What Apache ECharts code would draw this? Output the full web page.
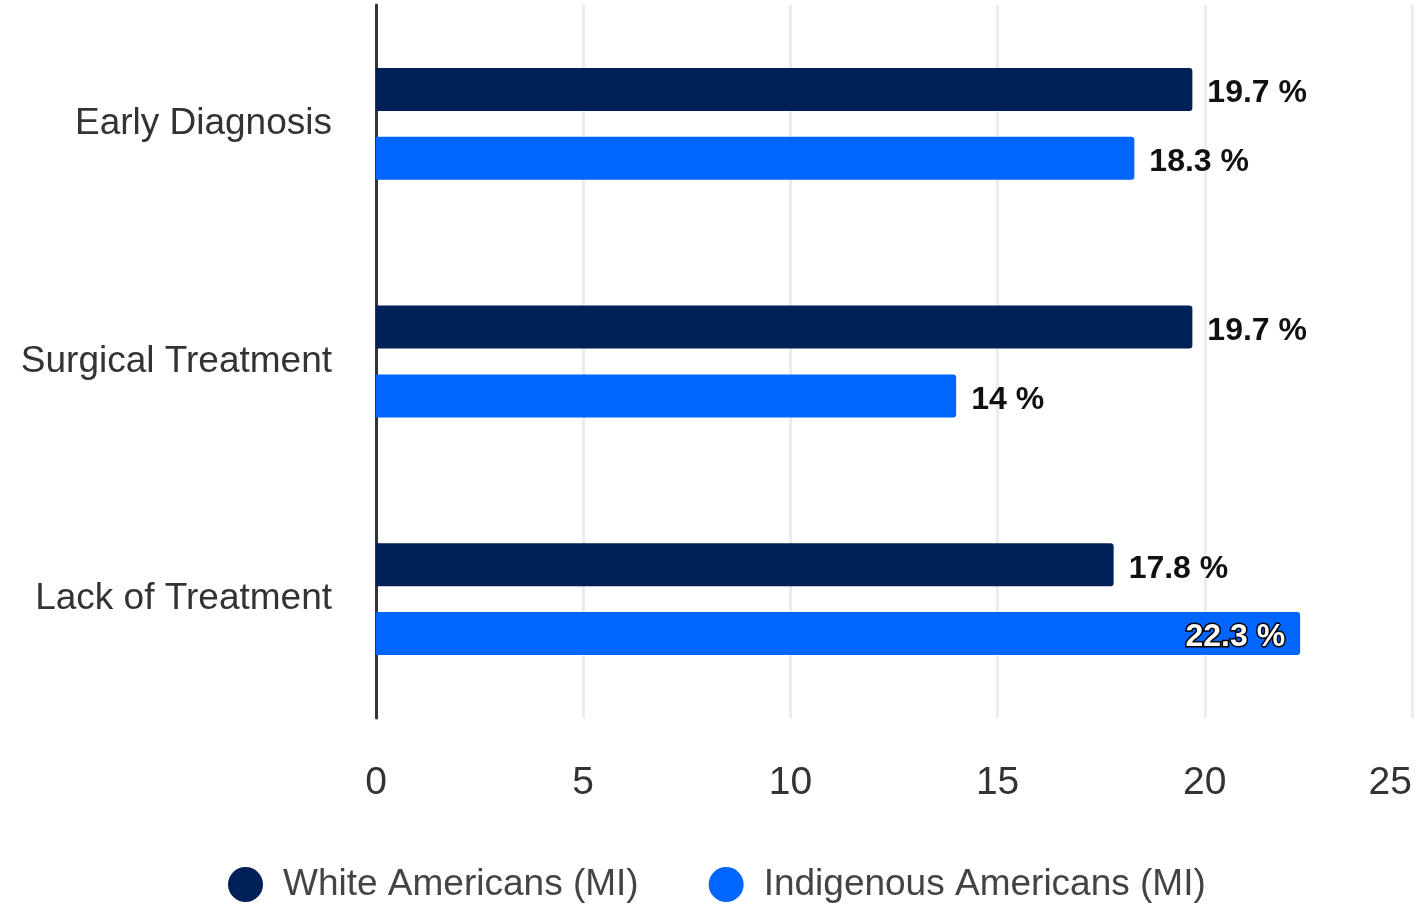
<!DOCTYPE html>
<html>
<head>
<meta charset="utf-8">
<script src="https://cdn.jsdelivr.net/npm/echarts@6/dist/echarts.min.js"></script>
<style>
  html, body { margin: 0; padding: 0; background: #ffffff; }
  #chart { width: 1425px; height: 905px; }
</style>
</head>
<body>
<div id="chart"></div>
<script>
// Categories, top to bottom
const categories = ['Early Diagnosis', 'Surgical Treatment', 'Lack of Treatment'];
// Percentages per group
const whiteAmericans = [19.7, 19.7, 17.8];
const indigenousAmericans = [18.3, 14, 22.3];
const seriesNames = ['White Americans (MI)', 'Indigenous Americans (MI)'];
const xTicks = [0, 5, 10, 15, 20, 25];

const FONT = '"Liberation Sans", Arial, sans-serif';
const AXIS_MAX = xTicks[xTicks.length - 1];

// Values that do not fit outside the bar are written inside it
function makeData(values) {
  return values.map(function (v) {
    const item = { value: v };
    if (v > 21) {
      item.label = {
        position: 'insideRight',
        distance: 15,
        color: '#ffffff',
        textBorderColor: '#000000',
        textBorderWidth: 3
      };
    }
    return item;
  });
}

const barLabel = {
  show: true,
  position: 'right',
  distance: 15,
  offset: [0, 4],
  fontFamily: FONT,
  fontSize: 32,
  fontWeight: 'bold',
  color: '#111111',
  textBorderColor: '#ffffff',
  textBorderWidth: 2,
  formatter: function (p) { return p.value + ' %'; }
};

const chart = echarts.init(document.getElementById('chart'), null, { renderer: 'canvas' });
chart.setOption({
  animation: false,
  backgroundColor: '#ffffff',
  grid: { left: 376, right: 13, top: 5, bottom: 187, containLabel: false },
  legend: {
    top: 866,
    left: 228,
    padding: 0,
    icon: 'circle',
    itemWidth: 35,
    itemHeight: 35,
    itemGap: 70,
    textStyle: { fontFamily: FONT, fontSize: 37, color: '#444444', padding: [0, 0, 0, 15] },
    data: seriesNames
  },
  xAxis: {
    type: 'value',
    min: 0,
    max: AXIS_MAX,
    interval: 5,
    axisLine: { show: false },
    axisTick: { show: false },
    splitLine: { show: true, lineStyle: { color: '#ececec', width: 3 } },
    axisLabel: {
      margin: 46,
      fontFamily: FONT,
      fontSize: 39,
      color: '#333333',
      alignMaxLabel: 'right',
      formatter: function (v) { return xTicks.indexOf(v) >= 0 ? String(v) : ''; }
    }
  },
  yAxis: {
    type: 'category',
    inverse: true,
    data: categories,
    axisLine: { show: true, lineStyle: { color: '#333333', width: 3 } },
    axisTick: { show: false },
    splitLine: { show: false },
    axisLabel: { margin: 44, fontFamily: FONT, fontSize: 37, color: '#333333' }
  },
  series: [
    {
      name: seriesNames[0],
      type: 'bar',
      data: makeData(whiteAmericans),
      barWidth: 43,
      barGap: '60%',
      itemStyle: { color: '#002157', borderRadius: [0, 3, 3, 0] },
      label: barLabel
    },
    {
      name: seriesNames[1],
      type: 'bar',
      data: makeData(indigenousAmericans),
      barWidth: 43,
      barGap: '60%',
      itemStyle: { color: '#0066ff', borderRadius: [0, 3, 3, 0] },
      label: barLabel
    }
  ]
});
</script>
</body>
</html>
